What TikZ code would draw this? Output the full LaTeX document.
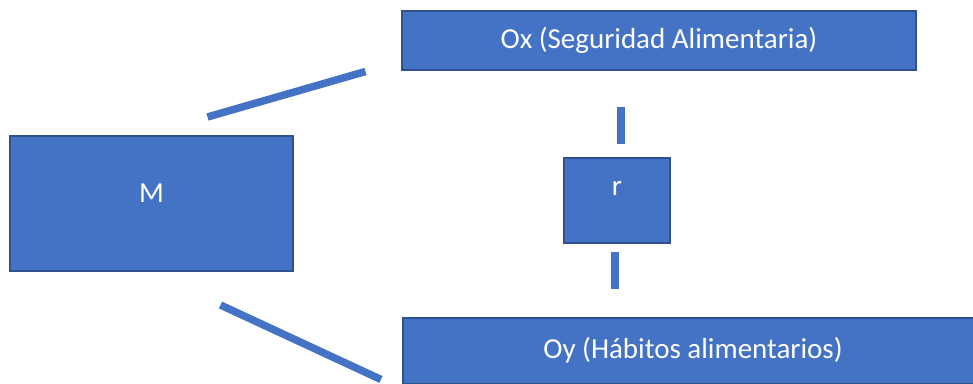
\documentclass[tikz,border=0pt]{standalone}
\usepackage{fontspec}
\setmainfont{Carlito}
\usetikzlibrary{positioning}
\definecolor{boxblue}{HTML}{4472C4}
\definecolor{boxedge}{HTML}{2F528F}
\tikzset{blk/.style={draw=boxedge, line width=2pt, fill=boxblue, text=white, inner sep=0pt, font=\fontsize{29}{34}\selectfont}}
\tikzset{txt/.style={text=white, inner sep=0pt, font=\fontsize{29}{34}\selectfont}}
\tikzset{ln/.style={draw=boxblue, line width=7.5pt, line cap=butt}}

\begin{document}
\begin{tikzpicture}[x=1pt, y=-1pt]
        \useasboundingbox (0,0) rectangle (973,383);
        \clip (0,0) rectangle (973,383);

        \node[blk, minimum width=514, minimum height=59] (Ox) at (659, 40.5) {Ox (Seguridad Alimentaria)};
        \node[blk, minimum width=580, minimum height=66] (Oy) at (693, 350.5) {Oy (Hábitos alimentarios)};
        \node[blk, minimum width=283, minimum height=135,
              label={[txt, yshift=10pt]center:M}] (M) at (151.5, 203.5) {};
        \node[blk, minimum width=106, minimum height=85,
              label={[txt, yshift=12pt]center:r}] (r) at (617, 200) {};

        % trazos sueltos
        \coordinate (mx1) at (207.5, 117);
        \coordinate (mx2) at (365.5, 71.5);
        \coordinate (my1) at (220.5, 305);
        \coordinate (my2) at (381, 379.5);
        \coordinate (rx1) at (621, 107);
        \coordinate (rx2) at (621, 144);
        \coordinate (ry1) at (615, 252);
        \coordinate (ry2) at (615, 289);

        \draw[ln] (mx1) -- (mx2);
        \draw[ln] (my1) -- (my2);
        \draw[ln] (rx1) -- (rx2);
        \draw[ln] (ry1) -- (ry2);
\end{tikzpicture}
\end{document}
